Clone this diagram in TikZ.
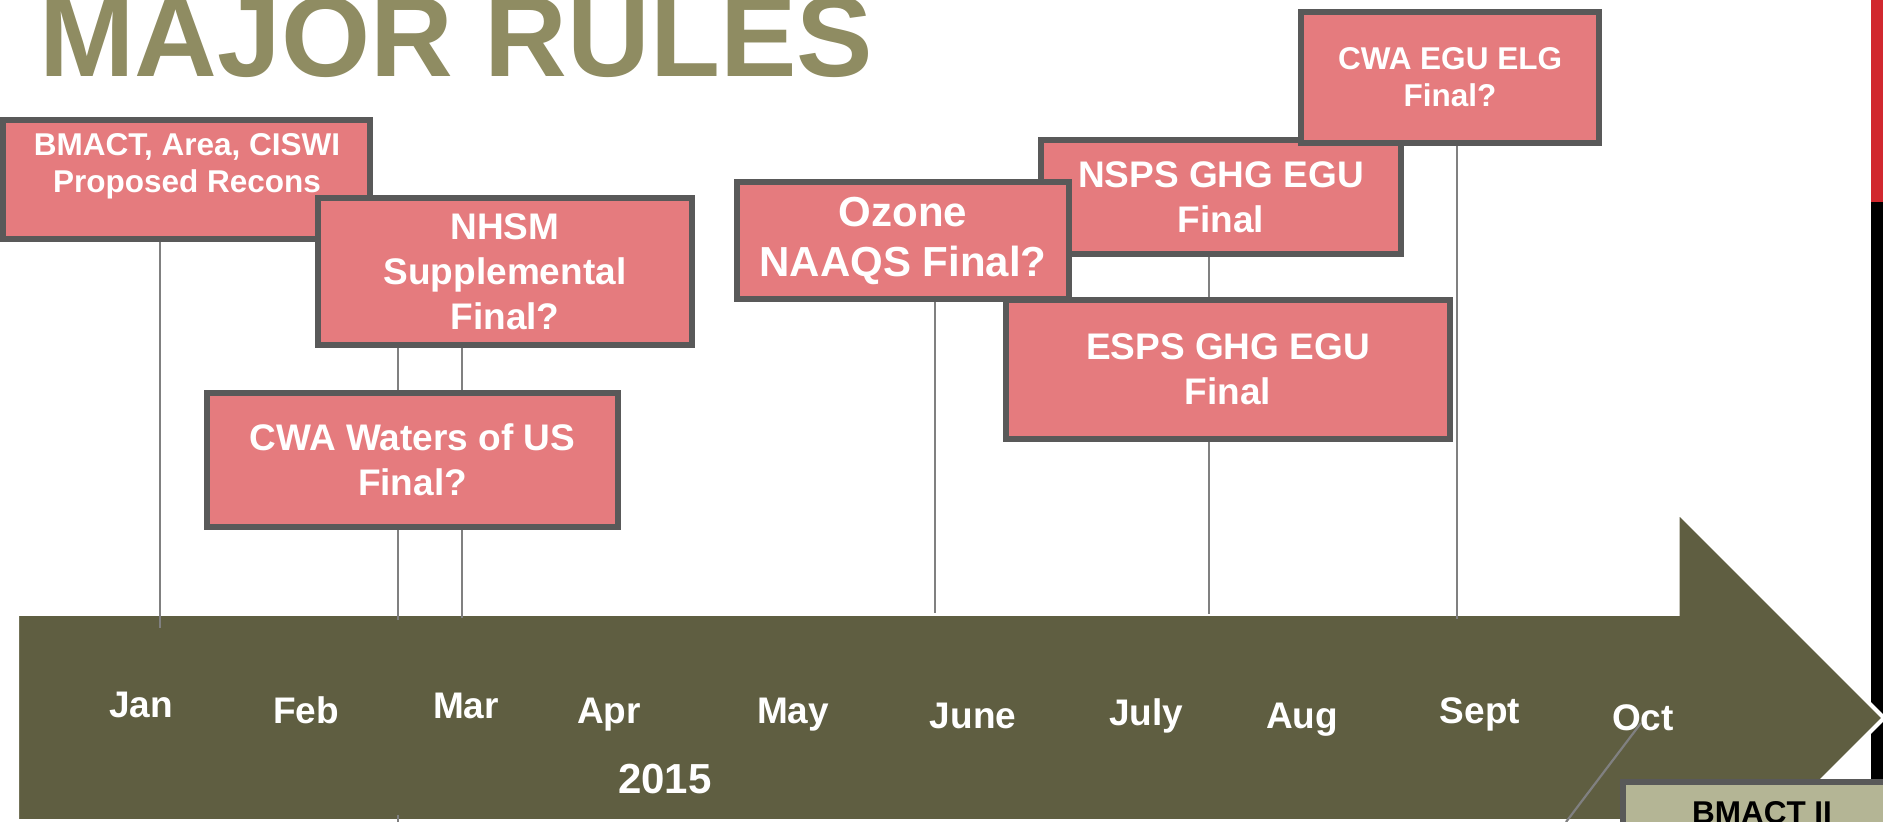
\documentclass[tikz,border=0pt]{standalone}
\usepackage{fontspec}
\setmainfont{Liberation Sans}
\usetikzlibrary{calc}
\definecolor{boxpink}{HTML}{E57B7E}
\definecolor{boxedge}{HTML}{595959}
\definecolor{arrowol}{HTML}{5F5E41}
\definecolor{titleol}{HTML}{8F8C62}
\definecolor{khakibox}{HTML}{B4B595}
\definecolor{barred}{HTML}{D1282E}
\definecolor{conngray}{HTML}{808080}
\pgfdeclarelayer{bgl}
\pgfdeclarelayer{connl}
\pgfsetlayers{bgl,connl,main}
\newcommand\boxfontS{\fontsize{15.75pt}{18.5pt}\selectfont}
\newcommand\boxfontM{\fontsize{18.5pt}{22.5pt}\selectfont}
\newcommand\boxfontL{\fontsize{21pt}{25pt}\selectfont}
\newcommand\monthfont{\fontsize{18.5pt}{22pt}\selectfont}
\tikzset{
  rulebox/.style={draw=boxedge, fill=boxpink, line width=3pt, inner sep=0pt,
    outer sep=0pt, align=center, text=white, font=\bfseries\boxfontM},
  wh/.style 2 args={minimum width=#1*0.5pt, minimum height=#2*0.5pt},
  boxtext/.style={inner sep=0pt, align=center, text=white},
  monthlbl/.style={anchor=base, inner sep=0pt, text=white, font=\bfseries\monthfont},
  connline/.style={draw=conngray, line width=1.1pt},
}
\begin{document}
\begin{tikzpicture}[x=0.5pt, y=-0.5pt]
\useasboundingbox (0,0) rectangle (1883,822);

% title
\node[anchor=base west, inner sep=0pt, text=titleol,
  font=\bfseries\fontsize{57.3pt}{60pt}\selectfont] (title) at (39,77) {MAJOR RULES};

% boxes
\node[rulebox, wh={367}{119}] (b1) at (186.5,179.5) {};
\node[boxtext, font=\bfseries\boxfontS] (t1) at (187,166) {BMACT, Area, CISWI\\Proposed Recons};
\node[rulebox, wh={374}{147}] (b2) at (505,271.5) {NHSM\\Supplemental\\Final?};
\node[rulebox, wh={411}{134}] (b3) at (412.5,460) {CWA Waters of US\\Final?};
\node[rulebox, wh={360}{114}] (b5) at (1221,197) {NSPS GHG EGU\\Final};
\node[rulebox, wh={444}{139}] (b6) at (1228,369.5) {ESPS GHG EGU\\Final};
\node[rulebox, wh={332}{117}, font=\bfseries\boxfontL] (b4) at (903,240.5) {Ozone\\NAAQS Final?};
\node[rulebox, wh={298}{131}, font=\bfseries\boxfontS] (b7) at (1450,77.5) {CWA EGU ELG\\Final?};
\node[rulebox, wh={278}{62}, fill=khakibox, text=black, font=\bfseries\boxfontS] (b8) at (1762,813) {BMACT II};

% background: side bars and timeline arrow
\begin{pgfonlayer}{bgl}
  \fill[barred] (1871,0) rectangle (1883,202);
  \fill[black] (1871,202) rectangle (1883,822);
  \draw[fill=arrowol, draw=white, line width=2pt]
    (17,614) -- (1677.5,614) -- (1677.5,511.5) -- (1884,718)
    -- (1677.5,924.5) -- (1677.5,821) -- (17,821) -- cycle;
\end{pgfonlayer}

% connectors
\coordinate (janE) at (160,628);
\coordinate (febE) at (398,620);
\coordinate (marE) at (462,618);
\coordinate (junE) at (935,613);
\coordinate (julE) at (1209,614);
\coordinate (sepE) at (1457,619);
\coordinate (octS) at (1641,723);
\coordinate (octE) at (1566,822);
\coordinate (febB1) at (398,815);
\coordinate (febB2) at (398,822);
\begin{pgfonlayer}{connl}
  \draw[connline] (b1.south -| janE) -- (janE);
  \draw[connline] (b2.south -| febE) -- (febE);
  \draw[connline] (b2.south -| marE) -- (marE);
  \draw[connline] (b4.south -| junE) -- (junE);
  \draw[connline] (b5.south -| julE) -- (julE);
  \draw[connline] (b7.south -| sepE) -- (sepE);
  \draw[connline] (octS) -- (octE);
  \draw[connline] (febB1) -- (febB2);
\end{pgfonlayer}

% month labels
\node[monthlbl] (m1) at (141,717) {Jan};
\node[monthlbl] (m2) at (306,723) {Feb};
\node[monthlbl] (m3) at (466,718) {Mar};
\node[monthlbl] (m4) at (609,723) {Apr};
\node[monthlbl] (m5) at (793,723) {May};
\node[monthlbl] (m6) at (973,728) {June};
\node[monthlbl] (m7) at (1146,725) {July};
\node[monthlbl] (m8) at (1302,728) {Aug};
\node[monthlbl] (m9) at (1480,723) {Sept};
\node[monthlbl] (m10) at (1643,730) {Oct};
\node[anchor=base, inner sep=0pt, text=white, font=\bfseries\fontsize{21pt}{25pt}\selectfont] (year) at (665,793) {2015};
\end{tikzpicture}
\end{document}
